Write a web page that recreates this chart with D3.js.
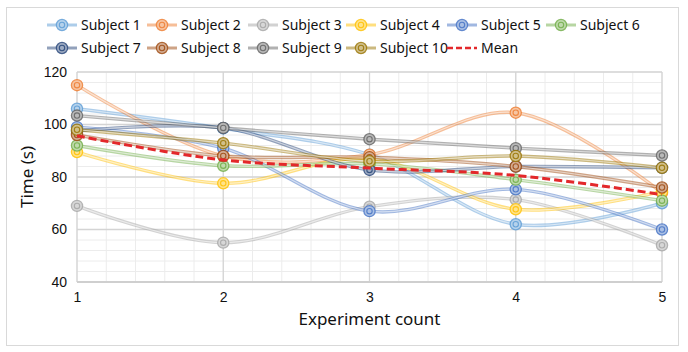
<!DOCTYPE html>
<html>
<head>
<meta charset="utf-8">
<script src="https://cdn.jsdelivr.net/npm/d3@7"></script>
<style>
  body { margin: 0; background: #fff; }
  svg { display: block; font-family: "Noto Sans", "Open Sans", sans-serif; }
</style>
</head>
<body>
<div id="chart"></div>
<script>
// data
const experiments = [1, 2, 3, 4, 5]
const subjectNames = ["Subject 1", "Subject 2", "Subject 3", "Subject 4", "Subject 5",
  "Subject 6", "Subject 7", "Subject 8", "Subject 9", "Subject 10"]
const subject1 = [106, 98.5, 88.5, 62, 70]
const subject2 = [115, 88, 88.5, 104.5, 74]
const subject3 = [69, 55, 68.7, 71.4, 54]
const subject4 = [89.5, 77.6, 87, 67.7, 74.5]
const subject5 = [99, 91, 67, 75.3, 60]
const subject6 = [92, 84.3, 85, 79, 71]
const subject7 = [97.5, 98.7, 82.7, 84, 83.5]
const subject8 = [96, 88, 87.5, 84, 76]
const subject9 = [103.4, 98.7, 94.4, 91, 88.2]
const subject10 = [98, 92.9, 86, 88, 83.5]
const meanTimes = [95.7, 86.5, 83.4, 80.6, 73.3]
const yTicks = [40, 60, 80, 100, 120]

const subjectValues = [subject1, subject2, subject3, subject4, subject5,
  subject6, subject7, subject8, subject9, subject10]
const colors = ["#5B9BD5", "#ED7D31", "#A5A5A5", "#FFC000", "#4472C4",
  "#70AD47", "#264478", "#9E480E", "#636363", "#997300"]
const meanColor = "#E3282B"

const width = 688
const height = 352
const margin = [72, 26, 70, 77] // top right bottom left

const x = d3.scaleLinear().domain([1, 5]).range([margin[3], width - margin[1]])
const y = d3.scaleLinear().domain([40, 120]).range([height - margin[2], margin[0]])

const svg = d3.create("svg")
  .attr("width", width)
  .attr("height", height)
  .attr("viewBox", [0, 0, width, height])

// outer chart frame
svg.append("rect")
  .attr("x", 6.5).attr("y", 7.5)
  .attr("width", 672).attr("height", 338)
  .attr("fill", "#fff")
  .attr("stroke", "#d9d9d9")

// minor grid
const grid = svg.append("g")
grid.selectAll(".ymin")
  .data(d3.range(40, 121, 4))
  .join("line")
  .attr("x1", x(1)).attr("x2", x(5))
  .attr("y1", d => y(d)).attr("y2", d => y(d))
  .attr("stroke", "#ececec")
grid.selectAll(".xmin")
  .data(d3.range(1, 5.01, 0.2))
  .join("line")
  .attr("class", "xmin")
  .attr("x1", d => x(d)).attr("x2", d => x(d))
  .attr("y1", y(40)).attr("y2", y(120))
  .attr("stroke", "#ececec")
// major grid
grid.selectAll(".ymaj")
  .data(yTicks)
  .join("line")
  .attr("class", "ymaj")
  .attr("x1", x(1)).attr("x2", x(5))
  .attr("y1", d => y(d)).attr("y2", d => y(d))
  .attr("stroke", "#d4d4d4")
  .attr("stroke-width", 1.3)
grid.selectAll(".xmaj")
  .data(experiments)
  .join("line")
  .attr("class", "xmaj")
  .attr("x1", d => x(d)).attr("x2", d => x(d))
  .attr("y1", y(40)).attr("y2", y(120))
  .attr("stroke", "#d4d4d4")
  .attr("stroke-width", 1.3)
grid.append("line")
  .attr("x1", x(1)).attr("x2", x(5))
  .attr("y1", y(40)).attr("y2", y(40))
  .attr("stroke", "#cfcfcf")
  .attr("stroke-width", 2)

// axes
const xAxis = d3.axisBottom(x).tickValues(experiments).tickFormat(d3.format("d")).tickSize(0).tickPadding(10)
const yAxis = d3.axisLeft(y).tickValues(yTicks).tickSize(0).tickPadding(10)
svg.append("g")
  .attr("transform", `translate(0,${y(40)})`)
  .call(xAxis)
  .call(g => g.select(".domain").remove())
  .selectAll("text")
  .attr("fill", "#111")
  .style("font-size", "14px")
svg.append("g")
  .attr("transform", `translate(${x(1)},0)`)
  .call(yAxis)
  .call(g => g.select(".domain").remove())
  .selectAll("text")
  .attr("fill", "#111")
  .style("font-size", "14px")

svg.append("text")
  .attr("x", (x(1) + x(5)) / 2)
  .attr("y", 325)
  .attr("text-anchor", "middle")
  .attr("fill", "#111")
  .style("font-size", "17px")
  .text("Experiment count")
svg.append("text")
  .attr("transform", `translate(33,${(y(40) + y(120)) / 2})rotate(-90)`)
  .attr("text-anchor", "middle")
  .attr("fill", "#111")
  .style("font-size", "17px")
  .text("Time (s)")

const line = d3.line()
  .x((d, i) => x(experiments[i]))
  .y(d => y(d))
  .curve(d3.curveCatmullRom.alpha(0.5))

function drawMarker(g, cx, cy, color) {
  g.append("circle")
    .attr("cx", cx).attr("cy", cy).attr("r", 5.6)
    .attr("fill", d3.interpolateRgb(color, "#fff")(0.55))
    .attr("stroke", color)
    .attr("stroke-opacity", 0.8)
    .attr("stroke-width", 1.3)
  g.append("circle")
    .attr("cx", cx).attr("cy", cy).attr("r", 2.7)
    .attr("fill", "none")
    .attr("stroke", color)
    .attr("stroke-opacity", 0.85)
    .attr("stroke-width", 1.1)
}

const series = svg.append("g")
subjectValues.forEach((vals, k) => {
  const g = series.append("g")
  g.append("path")
    .attr("d", line(vals))
    .attr("fill", "none")
    .attr("stroke", colors[k])
    .attr("stroke-opacity", 0.5)
    .attr("stroke-width", 3.4)
  g.append("path")
    .attr("d", line(vals))
    .attr("fill", "none")
    .attr("stroke", "#fff")
    .attr("stroke-opacity", 0.55)
    .attr("stroke-width", 1.2)
  vals.forEach((v, i) => drawMarker(g, x(experiments[i]), y(v), colors[k]))
})

svg.append("path")
  .attr("d", line(meanTimes))
  .attr("fill", "none")
  .attr("stroke", meanColor)
  .attr("stroke-width", 3)
  .attr("stroke-dasharray", "8,4")

// legend
const legendCols = [47, 147, 248, 346, 447, 546]
const legendItems = subjectNames.map((name, k) => ({ name, color: colors[k] }))
  .concat([{ name: "Mean", color: meanColor, dashed: true }])
const legend = svg.append("g").style("font-size", "14px")
legendItems.forEach((d, i) => {
  const lx = legendCols[i % 6]
  const ly = i < 6 ? 25 : 48
  const g = legend.append("g")
  if (d.dashed) {
    g.append("line")
      .attr("x1", lx).attr("x2", lx + 30)
      .attr("y1", ly).attr("y2", ly)
      .attr("stroke", d.color)
      .attr("stroke-width", 2.5)
      .attr("stroke-dasharray", "6,3")
  } else {
    g.append("line")
      .attr("x1", lx).attr("x2", lx + 30)
      .attr("y1", ly).attr("y2", ly)
      .attr("stroke", d.color)
      .attr("stroke-opacity", 0.5)
      .attr("stroke-width", 3)
    drawMarker(g, lx + 15, ly, d.color)
  }
  g.append("text")
    .attr("x", lx + 34)
    .attr("y", ly)
    .attr("dy", "0.35em")
    .attr("fill", "#111")
    .text(d.name)
})

document.querySelector("#chart").append(svg.node())
</script>
</body>
</html>
